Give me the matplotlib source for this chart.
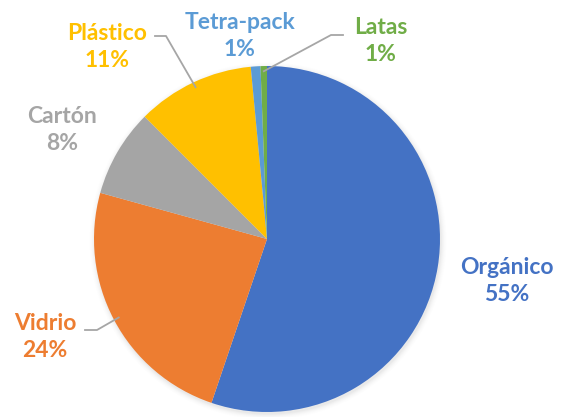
import numpy as np
import matplotlib.pyplot as plt

# Composición de residuos (%)
categorias = ["Orgánico", "Vidrio", "Cartón", "Plástico", "Tetra-pack", "Latas"]
valores = [55.2, 24.1, 8.2, 11.0, 0.9, 0.6]
colores = ["#4472C4", "#ED7D31", "#A5A5A5", "#FFC000", "#5B9BD5", "#70AD47"]

W, H = 561, 417

# posición (px desde arriba) del centro del bloque de texto de cada etiqueta
pos_etiquetas = [(507, 281), (45, 337), (62, 130), (107, 47), (240, 36), (381, 41)]
# etiquetas con línea guía: (índice, inicio de la guía, codo)
guias = [(1, (85, 330), (97, 330)), (3, (155, 36), (166, 36)), (5, (343, 35), (331, 35))]

CENTRO = (267, H - 239)
RADIO = 173

fig = plt.figure(figsize=(W / 100, H / 100), dpi=100)
ax = fig.add_axes([0, 0, 1, 1])

# sombra suave alrededor del pastel
for i, a in enumerate(np.linspace(0.025, 0.006, 6)):
    sombra = plt.Circle((CENTRO[0] + 1, CENTRO[1] - 2), RADIO + 0.5 + i, color='black', alpha=a, lw=0)
    ax.add_patch(sombra)

cuñas, _ = ax.pie(valores, colors=colores, startangle=90, counterclock=False,
                  center=CENTRO, radius=RADIO, wedgeprops=dict(linewidth=0))

ax.set_xlim(0, W)
ax.set_ylim(0, H)
ax.set_aspect('equal')
ax.axis('off')

total = sum(valores)
for i, (cat, v) in enumerate(zip(categorias, valores)):
    x, y = pos_etiquetas[i]
    ax.text(x, H - y, f"{cat}\n{v / total * 100:.0f}%", color=colores[i], fontsize=16.5,
            fontweight='bold', family='Lato', ha='center', va='center', linespacing=1.35)

# líneas guía hacia el arco de cada cuña
for i, p0, p1 in guias:
    c = cuñas[i]
    ang = np.deg2rad((c.theta1 + c.theta2) / 2)
    cx, cy = c.center
    px = cx + 0.97 * c.r * np.cos(ang)
    py = cy + 0.97 * c.r * np.sin(ang)
    ax.plot([p0[0], p1[0], px], [H - p0[1], H - p1[1], py], color='#A6A6A6', lw=1.3)

fig.savefig('out.png', dpi=100, facecolor='white')
